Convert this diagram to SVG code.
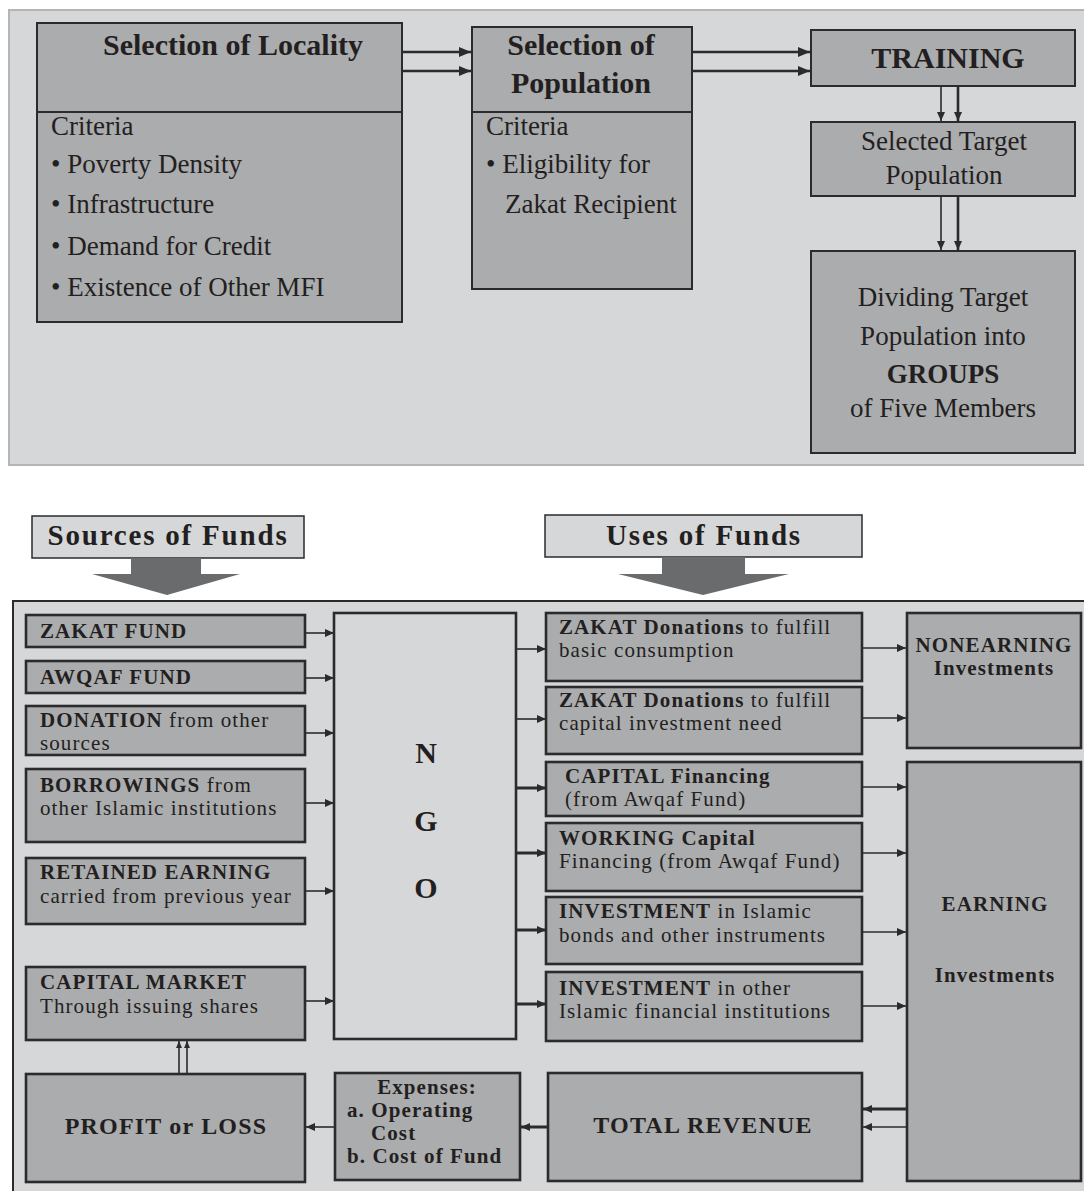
<svg xmlns="http://www.w3.org/2000/svg" width="1084" height="1191" viewBox="0 0 1084 1191">
  <style>
    text { font-family: "Liberation Serif", "Times New Roman", serif; fill: #231f20; }
    .panel { fill: #d6d7d9; }
    .box { fill: #abacae; stroke: #2b2b2b; stroke-width: 2; }
    .boxb { fill: #abacae; stroke: #2b2b2b; stroke-width: 2.6; }
    .light { fill: #d6d7d9; stroke: #2b2b2b; stroke-width: 2.6; }
    .ttl { font-size: 30px; font-weight: bold; }
    .crit { font-size: 27px; }
    .sm { font-size: 21px; letter-spacing: 1.1px; }
    .b { font-weight: bold; }
    .hdr { font-size: 29px; font-weight: bold; letter-spacing: 1.8px; }
    .big { font-size: 24px; font-weight: bold; letter-spacing: 1.2px; }
    .mid { text-anchor: middle; }
    .c-lg { stroke: #2b2b2b; stroke-width: 2.6; fill: none; }
    .c-th { stroke: #2b2b2b; stroke-width: 1.6; fill: none; }
    .c-tk { stroke: #2b2b2b; stroke-width: 3; fill: none; }
  </style>
  <defs>
    <marker id="ah-lg" markerUnits="userSpaceOnUse" markerWidth="12" markerHeight="10" refX="12" refY="5" orient="auto">
      <path d="M0,0 L12,5 L0,10 z" fill="#2b2b2b"/>
    </marker>
    <marker id="ah-sm" markerUnits="userSpaceOnUse" markerWidth="9" markerHeight="8" refX="9" refY="4" orient="auto">
      <path d="M0,0 L9,4 L0,8 z" fill="#2b2b2b"/>
    </marker>
    <marker id="ah-xs" markerUnits="userSpaceOnUse" markerWidth="7" markerHeight="6" refX="7" refY="3" orient="auto">
      <path d="M0,0 L7,3 L0,6 z" fill="#2b2b2b"/>
    </marker>
  </defs>

  <!-- upper process panel -->
  <rect class="panel" x="9" y="10" width="1090" height="455" stroke="#b4b5b7" stroke-width="2"/>

  <g id="selection-locality">
    <rect class="box" x="37" y="23" width="365" height="299"/>
    <line x1="37" y1="112" x2="402" y2="112" stroke="#2b2b2b" stroke-width="2"/>
    <text class="ttl mid" x="233" y="55">Selection of Locality</text>
    <text class="crit" x="51" y="135">Criteria</text>
    <text class="crit" x="51" y="173">• Poverty Density</text>
    <text class="crit" x="51" y="213">• Infrastructure</text>
    <text class="crit" x="51" y="255">• Demand for Credit</text>
    <text class="crit" x="51" y="296">• Existence of Other MFI</text>
  </g>

  <g id="selection-population">
    <rect class="box" x="472" y="27" width="220" height="262"/>
    <line x1="472" y1="112" x2="692" y2="112" stroke="#2b2b2b" stroke-width="2"/>
    <text class="ttl mid" x="581" y="55">Selection of</text>
    <text class="ttl mid" x="581" y="93">Population</text>
    <text class="crit" x="486" y="135">Criteria</text>
    <text class="crit" x="486" y="173">• Eligibility for</text>
    <text class="crit" x="505" y="213">Zakat Recipient</text>
  </g>

  <g id="training">
    <rect class="box" x="811" y="30" width="264" height="56"/>
    <text class="ttl mid" x="948" y="68">TRAINING</text>
  </g>

  <g id="selected-target">
    <rect class="box" x="811" y="122" width="264" height="74"/>
    <text class="crit mid" x="944" y="150">Selected Target</text>
    <text class="crit mid" x="944" y="184">Population</text>
  </g>

  <g id="dividing-groups">
    <rect class="box" x="811" y="251" width="264" height="202"/>
    <text class="crit mid" x="943" y="306">Dividing Target</text>
    <text class="crit mid" x="943" y="345">Population into</text>
    <text class="crit mid b" x="943" y="383">GROUPS</text>
    <text class="crit mid" x="943" y="417">of Five Members</text>
  </g>

  <!-- fund headers -->
  <g id="sources-header">
    <rect x="32" y="516" width="272" height="42" fill="#d6d7d9" stroke="#2b2b2b" stroke-width="1.5"/>
    <text class="hdr mid" x="168" y="545">Sources of Funds</text>
    <polygon points="131,558 201,558 201,574 240,574 167,595 92,574 131,574" fill="#6a6b6d"/>
  </g>
  <g id="uses-header">
    <rect x="545" y="515" width="317" height="42" fill="#d6d7d9" stroke="#2b2b2b" stroke-width="1.5"/>
    <text class="hdr mid" x="704" y="545">Uses of Funds</text>
    <polygon points="662,557 745,557 745,574 789,574 703,595 618,574 662,574" fill="#6a6b6d"/>
  </g>

  <!-- lower fund flow panel -->
  <rect x="13" y="601" width="1090" height="600" fill="#d6d7d9" stroke="#2b2b2b" stroke-width="2"/>

  <g id="zakat-fund">
    <rect class="boxb" x="26" y="615" width="279" height="32"/>
    <text class="sm b" x="40" y="638">ZAKAT FUND</text>
  </g>
  <g id="awqaf-fund">
    <rect class="boxb" x="26" y="661" width="279" height="32"/>
    <text class="sm b" x="40" y="684">AWQAF FUND</text>
  </g>
  <g id="donation">
    <rect class="boxb" x="26" y="706" width="279" height="49"/>
    <text class="sm" x="40" y="727"><tspan class="b">DONATION</tspan> from other</text>
    <text class="sm" x="40" y="750">sources</text>
  </g>
  <g id="borrowings">
    <rect class="boxb" x="26" y="769" width="279" height="73"/>
    <text class="sm" x="40" y="792"><tspan class="b">BORROWINGS</tspan> from</text>
    <text class="sm" x="40" y="815">other Islamic institutions</text>
  </g>
  <g id="retained-earning">
    <rect class="boxb" x="26" y="858" width="279" height="66"/>
    <text class="sm b" x="40" y="879">RETAINED EARNING</text>
    <text class="sm" x="40" y="903">carried from previous year</text>
  </g>
  <g id="capital-market">
    <rect class="boxb" x="26" y="967" width="279" height="73"/>
    <text class="sm b" x="40" y="989">CAPITAL MARKET</text>
    <text class="sm" x="40" y="1013">Through issuing shares</text>
  </g>
  <g id="profit-loss">
    <rect class="boxb" x="26" y="1074" width="279" height="108"/>
    <text class="big mid" x="166" y="1134">PROFIT or LOSS</text>
  </g>

  <g id="ngo">
    <rect class="light" x="334" y="613" width="182" height="426"/>
    <text class="ttl mid" x="426" y="763">N</text>
    <text class="ttl mid" x="426" y="831">G</text>
    <text class="ttl mid" x="426" y="898">O</text>
  </g>

  <g id="zakat-consumption">
    <rect class="boxb" x="546" y="613" width="316" height="68"/>
    <text class="sm" x="559" y="634"><tspan class="b">ZAKAT Donations</tspan> to fulfill</text>
    <text class="sm" x="559" y="657">basic consumption</text>
  </g>
  <g id="zakat-capital">
    <rect class="boxb" x="546" y="687" width="316" height="67"/>
    <text class="sm" x="559" y="707"><tspan class="b">ZAKAT Donations</tspan> to fulfill</text>
    <text class="sm" x="559" y="730">capital investment need</text>
  </g>
  <g id="capital-financing">
    <rect class="boxb" x="546" y="762" width="316" height="54"/>
    <text class="sm b" x="565" y="783">CAPITAL Financing</text>
    <text class="sm" x="565" y="806">(from Awqaf Fund)</text>
  </g>
  <g id="working-capital">
    <rect class="boxb" x="546" y="823" width="316" height="68"/>
    <text class="sm b" x="559" y="845">WORKING Capital</text>
    <text class="sm" x="559" y="868">Financing (from Awqaf Fund)</text>
  </g>
  <g id="investment-bonds">
    <rect class="boxb" x="546" y="897" width="316" height="67"/>
    <text class="sm" x="559" y="918"><tspan class="b">INVESTMENT</tspan> in Islamic</text>
    <text class="sm" x="559" y="942">bonds and other instruments</text>
  </g>
  <g id="investment-institutions">
    <rect class="boxb" x="546" y="972" width="316" height="69"/>
    <text class="sm" x="559" y="995"><tspan class="b">INVESTMENT</tspan> in other</text>
    <text class="sm" x="559" y="1018">Islamic financial institutions</text>
  </g>

  <g id="nonearning">
    <rect class="boxb" x="907" y="613" width="174" height="135"/>
    <text class="sm b mid" x="994" y="652">NONEARNING</text>
    <text class="sm b mid" x="994" y="675">Investments</text>
  </g>
  <g id="earning">
    <rect class="boxb" x="907" y="762" width="174" height="419"/>
    <text class="sm b mid" x="995" y="911">EARNING</text>
    <text class="sm b mid" x="995" y="982">Investments</text>
  </g>

  <g id="expenses">
    <rect class="boxb" x="335" y="1073" width="185" height="107"/>
    <text class="sm b mid" x="427" y="1094">Expenses:</text>
    <text class="sm b" x="347" y="1117">a. Operating</text>
    <text class="sm b" x="371" y="1140">Cost</text>
    <text class="sm b" x="347" y="1163">b. Cost of Fund</text>
  </g>
  <g id="total-revenue">
    <rect class="boxb" x="548" y="1073" width="314" height="108"/>
    <text class="big mid" x="703" y="1133">TOTAL REVENUE</text>
  </g>

  <g id="connectors">
    <!-- upper panel -->
    <line class="c-lg" x1="402" y1="52" x2="471" y2="52" marker-end="url(#ah-lg)"/>
    <line class="c-lg" x1="402" y1="71" x2="471" y2="71" marker-end="url(#ah-lg)"/>
    <line class="c-lg" x1="692" y1="52" x2="810" y2="52" marker-end="url(#ah-lg)"/>
    <line class="c-lg" x1="692" y1="71" x2="810" y2="71" marker-end="url(#ah-lg)"/>
    <line class="c-th" x1="941" y1="86" x2="941" y2="121" marker-end="url(#ah-sm)"/>
    <line class="c-lg" x1="958" y1="86" x2="958" y2="121" marker-end="url(#ah-sm)"/>
    <line class="c-th" x1="941" y1="196" x2="941" y2="250" marker-end="url(#ah-sm)"/>
    <line class="c-lg" x1="958" y1="196" x2="958" y2="250" marker-end="url(#ah-sm)"/>

    <!-- sources into NGO -->
    <line class="c-th" x1="305" y1="633" x2="334" y2="633" marker-end="url(#ah-sm)"/>
    <line class="c-th" x1="305" y1="678" x2="334" y2="678" marker-end="url(#ah-sm)"/>
    <line class="c-th" x1="305" y1="733" x2="334" y2="733" marker-end="url(#ah-sm)"/>
    <line class="c-th" x1="305" y1="803" x2="334" y2="803" marker-end="url(#ah-sm)"/>
    <line class="c-th" x1="305" y1="891" x2="334" y2="891" marker-end="url(#ah-sm)"/>
    <line class="c-th" x1="305" y1="1001" x2="334" y2="1001" marker-end="url(#ah-sm)"/>

    <!-- NGO into uses -->
    <line class="c-th" x1="516" y1="649" x2="546" y2="649" marker-end="url(#ah-sm)"/>
    <line class="c-th" x1="516" y1="719" x2="546" y2="719" marker-end="url(#ah-sm)"/>
    <line class="c-tk" x1="516" y1="788" x2="546" y2="788" marker-end="url(#ah-sm)"/>
    <line class="c-tk" x1="516" y1="853" x2="546" y2="853" marker-end="url(#ah-sm)"/>
    <line class="c-tk" x1="516" y1="930" x2="546" y2="930" marker-end="url(#ah-sm)"/>
    <line class="c-tk" x1="516" y1="1004" x2="546" y2="1004" marker-end="url(#ah-sm)"/>

    <!-- uses into investment classes -->
    <line class="c-th" x1="862" y1="648" x2="906" y2="648" marker-end="url(#ah-sm)"/>
    <line class="c-th" x1="862" y1="718" x2="906" y2="718" marker-end="url(#ah-sm)"/>
    <line class="c-th" x1="862" y1="787" x2="906" y2="787" marker-end="url(#ah-sm)"/>
    <line class="c-th" x1="862" y1="853" x2="906" y2="853" marker-end="url(#ah-sm)"/>
    <line class="c-th" x1="862" y1="932" x2="906" y2="932" marker-end="url(#ah-sm)"/>
    <line class="c-th" x1="862" y1="1006" x2="906" y2="1006" marker-end="url(#ah-sm)"/>

    <!-- revenue loop -->
    <line class="c-tk" x1="907" y1="1109" x2="863" y2="1109" marker-end="url(#ah-sm)"/>
    <line class="c-th" x1="907" y1="1127" x2="863" y2="1127" marker-end="url(#ah-sm)"/>
    <line class="c-tk" x1="548" y1="1127" x2="521" y2="1127" marker-end="url(#ah-sm)"/>
    <line class="c-th" x1="335" y1="1127" x2="306" y2="1127" marker-end="url(#ah-sm)"/>
    <line class="c-th" x1="179" y1="1073" x2="179" y2="1041" marker-end="url(#ah-xs)"/>
    <line class="c-th" x1="187" y1="1073" x2="187" y2="1041" marker-end="url(#ah-xs)"/>
  </g>
</svg>
